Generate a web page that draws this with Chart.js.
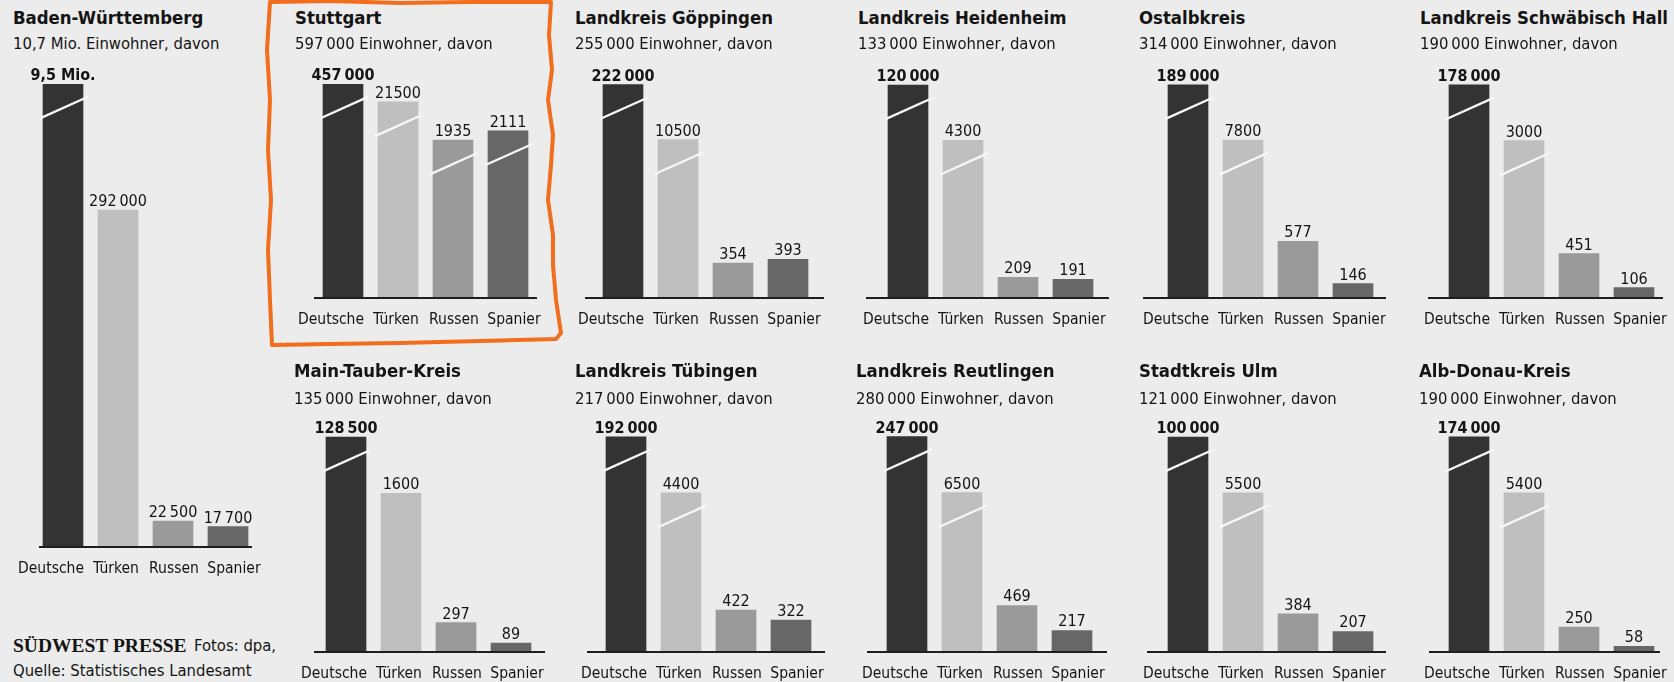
<!DOCTYPE html>
<html lang="de">
<head>
<meta charset="utf-8">
<title>Ausländer in Baden-Württemberg</title>
<script src="https://cdn.jsdelivr.net/npm/chart.js@4.4.1/dist/chart.umd.min.js"></script>
<style>
  html, body { margin: 0; padding: 0; background: #ececec; }
  body {
    width: 1674px; height: 682px; position: relative; overflow: hidden;
    font-family: "DejaVu Sans Condensed", "DejaVu Sans", sans-serif; color: #141414;
  }
  .txt { position: absolute; white-space: nowrap; }
  .title { font-weight: bold; font-size: 18.4px; line-height: 18.4px; }
  .sub { font-size: 16.5px; line-height: 16.5px; }
  .brand { font-family: "Liberation Serif", serif; font-weight: bold; font-size: 19.5px; line-height: 19.5px; }
  .credit { font-size: 16.5px; line-height: 16.5px; }
  canvas { position: absolute; }
  svg.mark { position: absolute; left: 0; top: 0; pointer-events: none; }
</style>
</head>
<body>
<svg class="mark" width="1674" height="682" viewBox="0 0 1674 682">
  <path d="M270,2 L330,1 L400,3 L470,2 L551,2 L549,35 L552,70 L548,100 L553,135 L551,165 L548,200 L553,235 L553,265 L556,300 L561,333 L556,339 L480,341 L400,343 L330,344 L272,345 L270,300 L268,250 L271,200 L268,150 L270,100 L267,50 Z"
        fill="none" stroke="#f26d1d" stroke-width="4" stroke-linejoin="round" stroke-linecap="round"/>
</svg>
<script>
// ---- data -------------------------------------------------------------
const regionNames = ['Baden-Württemberg', 'Stuttgart', 'Landkreis Göppingen', 'Landkreis Heidenheim',
  'Ostalbkreis', 'Landkreis Schwäbisch Hall', 'Main-Tauber-Kreis', 'Landkreis Tübingen',
  'Landkreis Reutlingen', 'Stadtkreis Ulm', 'Alb-Donau-Kreis'];
const populations = [10700000, 597000, 255000, 133000, 314000, 190000, 135000, 217000, 280000, 121000, 190000];
const categories = ['Deutsche', 'Türken', 'Russen', 'Spanier'];
const germans   = [9500000, 457000, 222000, 120000, 189000, 178000, 128500, 192000, 247000, 100000, 174000];
const turks     = [292000, 21500, 10500, 4300, 7800, 3000, 1600, 4400, 6500, 5500, 5400];
const russians  = [22500, 1935, 354, 209, 577, 451, 297, 422, 469, 384, 250];
const spaniards = [17700, 2111, 393, 191, 146, 106, 89, 322, 217, 207, 58];

// ---- broken value axes (value -> share of plot height) ----------------
const axisBreaks = {
  state:    { knots: [[0, 0], [400000, 0.997], [10000000, 1]], breakFrom: 400000, groupFrom: 10000 },
  city:     { knots: [[0, 0], [1900, 0.73], [2150, 0.79], [22000, 0.92], [460000, 1]], breakFrom: 1000, groupFrom: 100000 },
  district: { knots: [[0, 0], [1600, 0.735], [11000, 0.74], [95000, 0.995], [460000, 1]], breakFrom: 2000, groupFrom: 100000 }
};
const panelAxis = ['state', 'city', 'district', 'district', 'district', 'district',
  'district', 'district', 'district', 'district', 'district'];

// ---- layout ---------------------------------------------------------------
const textLeft    = [13, 295, 575, 858, 1139, 1420, 294, 575, 856, 1139, 1419];
const firstBarX   = [43, 323, 603, 888, 1168, 1449, 326, 606, 887, 1168, 1449];
const axisOverhang = [[4, 4], [9, 9], [18, 16], [22, 16], [25, 13], [21, 9],
  [12, 14], [19, 14], [20, 15], [21, 13], [20, 6]];
const labelShift = [-12, -2, 1, 6];
const rows = {
  state: { title: 25, sub: 50, plotTop: 84, axis: 547 },
  top:   { title: 25, sub: 50, plotTop: 84, axis: 298 },
  low:   { title: 378, sub: 405, plotTop: 436, axis: 652 }
};
const panelRow = ['state', 'top', 'top', 'top', 'top', 'top', 'low', 'low', 'low', 'low', 'low'];

const barColors = ['#333333', '#bfbfbf', '#9a9a9a', '#676767'];
const FONT = '"DejaVu Sans Condensed", "DejaVu Sans", sans-serif';
const BAR_W = 40, STEP = 55, PAD_TOP = 30, XAXIS_H = 40, LEFT_ROOM = 40, RIGHT_ROOM = 30;

function fmt(v, groupFrom) {
  if (v >= 1e6) return (v / 1e6).toFixed(1).replace('.', ',') + ' Mio.';
  const s = String(v);
  return v < groupFrom ? s : s.replace(/\B(?=(\d{3})+(?!\d))/g, '\u2009');
}

// Linear scale with piecewise-linear segments: lets huge and small values share one panel.
class SegmentedScale extends Chart.LinearScale {
  share(v) {
    const k = this.options.knots;
    if (v <= k[0][0]) return k[0][1];
    for (let i = 1; i < k.length; i++) {
      if (v <= k[i][0]) {
        const [v0, f0] = k[i - 1], [v1, f1] = k[i];
        return f0 + (v - v0) / (v1 - v0) * (f1 - f0);
      }
    }
    return k[k.length - 1][1];
  }
  getPixelForValue(v) {
    return this.bottom - this.share(v) * (this.bottom - this.top);
  }
  getValueForPixel(p) {
    const f = (this.bottom - p) / (this.bottom - this.top);
    const k = this.options.knots;
    for (let i = 1; i < k.length; i++) {
      if (f <= k[i][1]) {
        const [v0, f0] = k[i - 1], [v1, f1] = k[i];
        return v0 + (f - f0) / (f1 - f0) * (v1 - v0);
      }
    }
    return k[k.length - 1][0];
  }
}
SegmentedScale.id = 'segmented';
SegmentedScale.defaults = {};
Chart.register(SegmentedScale);

// Value labels, break strokes on shortened bars, base line and category names.
const panelDecor = {
  id: 'panelDecor',
  afterDatasetsDraw(chart, args, opts) {
    const ctx = chart.ctx;
    const meta = chart.getDatasetMeta(0);
    const values = chart.data.datasets[0].data;
    const area = chart.chartArea;
    const xScale = chart.scales.x;
    ctx.save();
    ctx.textAlign = 'center';
    ctx.textBaseline = 'alphabetic';
    meta.data.forEach((bar, i) => {
      const { x, y, width } = bar.getProps(['x', 'y', 'width'], true);
      const v = values[i];
      if (v > opts.breakFrom) {
        const cy = y + 24, slope = 0.45;
        const xl = x - width / 2 - 3, xr = x + width / 2 + 5;
        ctx.strokeStyle = '#f7f7f7';
        ctx.lineWidth = 2.3;
        ctx.beginPath();
        ctx.moveTo(xl, cy + (x - xl) * slope);
        ctx.lineTo(xr, cy - (xr - x) * slope);
        ctx.stroke();
      }
      ctx.fillStyle = '#141414';
      ctx.font = (i === 0 ? 'bold ' : '') + '16px ' + FONT;
      ctx.fillText(fmt(v, opts.groupFrom), x, y - 4);
    });
    const first = meta.data[0].getProps(['x', 'width'], true);
    const last = meta.data[meta.data.length - 1].getProps(['x', 'width'], true);
    const x0 = first.x - first.width / 2 - opts.overhang[0];
    const x1 = last.x + last.width / 2 + opts.overhang[1];
    ctx.fillStyle = '#1e1e1e';
    ctx.fillRect(x0, area.bottom - 1, x1 - x0, 2);

    ctx.font = '15.5px ' + FONT;
    ctx.fillStyle = '#141414';
    chart.data.labels.forEach((label, i) => {
      ctx.fillText(label, xScale.getPixelForValue(i) + labelShift[i], area.bottom + 26);
    });
    ctx.restore();
  }
};

function addText(cls, text, left, baseline, ascentShare) {
  const el = document.createElement('div');
  el.className = 'txt ' + cls;
  el.textContent = text;
  document.body.appendChild(el);
  const size = parseFloat(getComputedStyle(el).fontSize);
  el.style.left = left + 'px';
  el.style.top = (baseline - ascentShare * size) + 'px';
  return el;
}

regionNames.forEach((name, i) => {
  const row = rows[panelRow[i]];
  const brk = axisBreaks[panelAxis[i]];
  addText('title', name, textLeft[i], row.title, 0.846);
  addText('sub', fmt(populations[i], 100000) + ' Einwohner, davon', textLeft[i], row.sub, 0.846);

  const plotH = row.axis - row.plotTop;
  const canvas = document.createElement('canvas');
  const areaLeft = LEFT_ROOM - (STEP - BAR_W) / 2;
  canvas.width = LEFT_ROOM + categories.length * STEP + RIGHT_ROOM;
  canvas.height = PAD_TOP + plotH + XAXIS_H;
  canvas.style.left = (firstBarX[i] - LEFT_ROOM) + 'px';
  canvas.style.top = (row.plotTop - PAD_TOP) + 'px';
  document.body.appendChild(canvas);

  new Chart(canvas, {
    type: 'bar',
    data: {
      labels: categories,
      datasets: [{
        data: [germans[i], turks[i], russians[i], spaniards[i]],
        backgroundColor: barColors,
        borderWidth: 0,
        barThickness: BAR_W
      }]
    },
    options: {
      responsive: false,
      animation: false,
      devicePixelRatio: 1,
      layout: { padding: { top: PAD_TOP, bottom: XAXIS_H, left: areaLeft,
        right: canvas.width - areaLeft - categories.length * STEP } },
      scales: {
        x: { type: 'category', display: false },
        y: {
          type: 'segmented',
          display: false,
          min: 0,
          max: brk.knots[brk.knots.length - 1][0],
          knots: brk.knots
        }
      },
      plugins: {
        legend: { display: false },
        tooltip: { enabled: false },
        panelDecor: { breakFrom: brk.breakFrom, groupFrom: brk.groupFrom, overhang: axisOverhang[i] }
      }
    },
    plugins: [panelDecor]
  });
});

// Source line
addText('brand', 'SÜDWEST PRESSE', 13, 652, 0.8375);
addText('credit', 'Fotos: dpa,', 194, 652, 0.846);
addText('credit', 'Quelle: Statistisches Landesamt', 13, 677, 0.846);
</script>
</body>
</html>
